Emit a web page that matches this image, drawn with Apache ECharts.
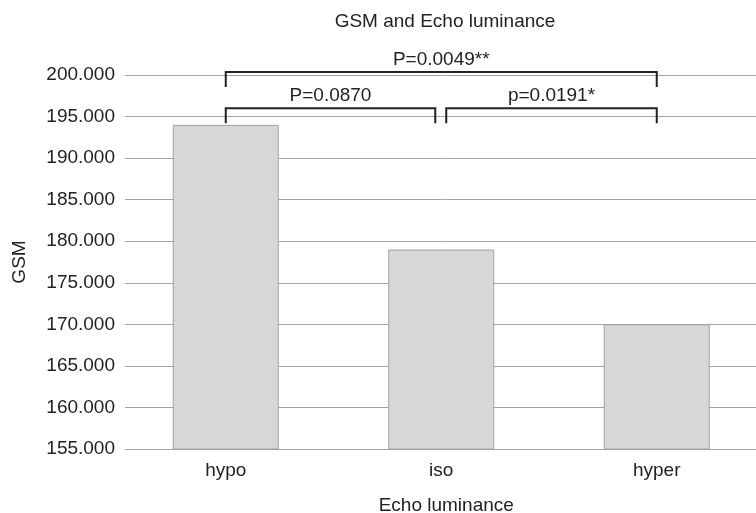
<!DOCTYPE html>
<html><head><meta charset="utf-8">
<script src="https://cdn.jsdelivr.net/npm/echarts@6/dist/echarts.min.js"></script>
<style>html,body{margin:0;padding:0;background:#fff}#c{width:756px;height:513px}</style>
</head><body><div id="c"></div>
<script>
const categories = ['hypo', 'iso', 'hyper'];
const gsmValues = [194, 179, 170];
const yMin = 155, yMax = 200, yStep = 5;
// significance brackets
const bracketFrom = [0, 1, 0];
const bracketTo = [1, 2, 2];
const bracketLevel = [196.0, 196.0, 200.35];
const bracketText = ['P=0.0870', 'p=0.0191*', 'P=0.0049**'];

const FONT = 'Liberation Sans, Arial, sans-serif';
const FS = 19;
const insetL = [0, 5, 0], insetR = [6, 0, 0];

const chart = echarts.init(document.getElementById('c'));
chart.setOption({
  animation: false,
  backgroundColor: '#fff',
  title: {
    text: 'GSM and Echo luminance', left: 445, top: 12, textAlign: 'center', padding: 0,
    textStyle: { fontFamily: FONT, fontSize: FS, fontWeight: 'normal', color: '#222' }
  },
  grid: [
    { left: 125, right: 0, top: 75, bottom: 64, outerBoundsMode: 'none', containLabel: false },
    { left: 118, width: 646.5, top: 75, bottom: 64, outerBoundsMode: 'none', containLabel: false }
  ],
  xAxis: [
    { gridIndex: 0, type: 'category', data: categories, show: false },
    { gridIndex: 1, type: 'category', data: categories,
      axisLine: { show: false }, axisTick: { show: false },
      axisLabel: { fontFamily: FONT, fontSize: FS, color: '#222', margin: 12 },
      name: 'Echo luminance', nameLocation: 'middle', nameGap: 47,
      nameTextStyle: { fontFamily: FONT, fontSize: FS, color: '#222', padding: [0, 0, 0, 10] } }
  ],
  yAxis: [
    { gridIndex: 0, type: 'value', min: yMin, max: yMax, interval: yStep,
      axisLine: { show: false }, axisTick: { show: false },
      splitLine: { show: true, lineStyle: { color: '#a3a3a3', width: 1 } },
      axisLabel: { fontFamily: FONT, fontSize: FS, color: '#222', margin: 10,
        formatter: v => v.toFixed(3) },
      name: 'GSM', nameLocation: 'middle', nameGap: 95.5, nameRotate: 90,
      nameTextStyle: { fontFamily: FONT, fontSize: FS, color: '#222' } },
    { gridIndex: 1, type: 'value', min: yMin, max: yMax, interval: yStep, show: false,
      splitLine: { show: false } }
  ],
  series: [
    { type: 'bar', xAxisIndex: 1, yAxisIndex: 1, data: gsmValues, barWidth: 106,
      itemStyle: { color: '#d7d6d8', borderColor: '#a2a2a2', borderWidth: 1 } },
    { type: 'custom', xAxisIndex: 1, yAxisIndex: 1, clip: false, z: 5,
      data: bracketFrom.map((f, i) => [f, bracketTo[i], bracketLevel[i], i]),
      renderItem: function (params, api) {
        const i = api.value(3);
        const p1 = api.coord([api.value(0), api.value(2)]);
        const p2 = api.coord([api.value(1), api.value(2)]);
        const x1 = p1[0] + insetL[i], x2 = p2[0] - insetR[i], y = p1[1];
        const leg = 15;
        return { type: 'group', children: [
          { type: 'polyline', shape: { points: [[x1, y + leg], [x1, y], [x2, y], [x2, y + leg]] },
            style: { stroke: '#222', lineWidth: 2, fill: null } },
          { type: 'text', style: { x: (x1 + x2) / 2, y: y - 3, text: bracketText[i],
            textAlign: 'center', textVerticalAlign: 'bottom',
            font: FS + 'px ' + FONT, fill: '#222' } }
        ] };
      }
    }
  ]
});
</script></body></html>
